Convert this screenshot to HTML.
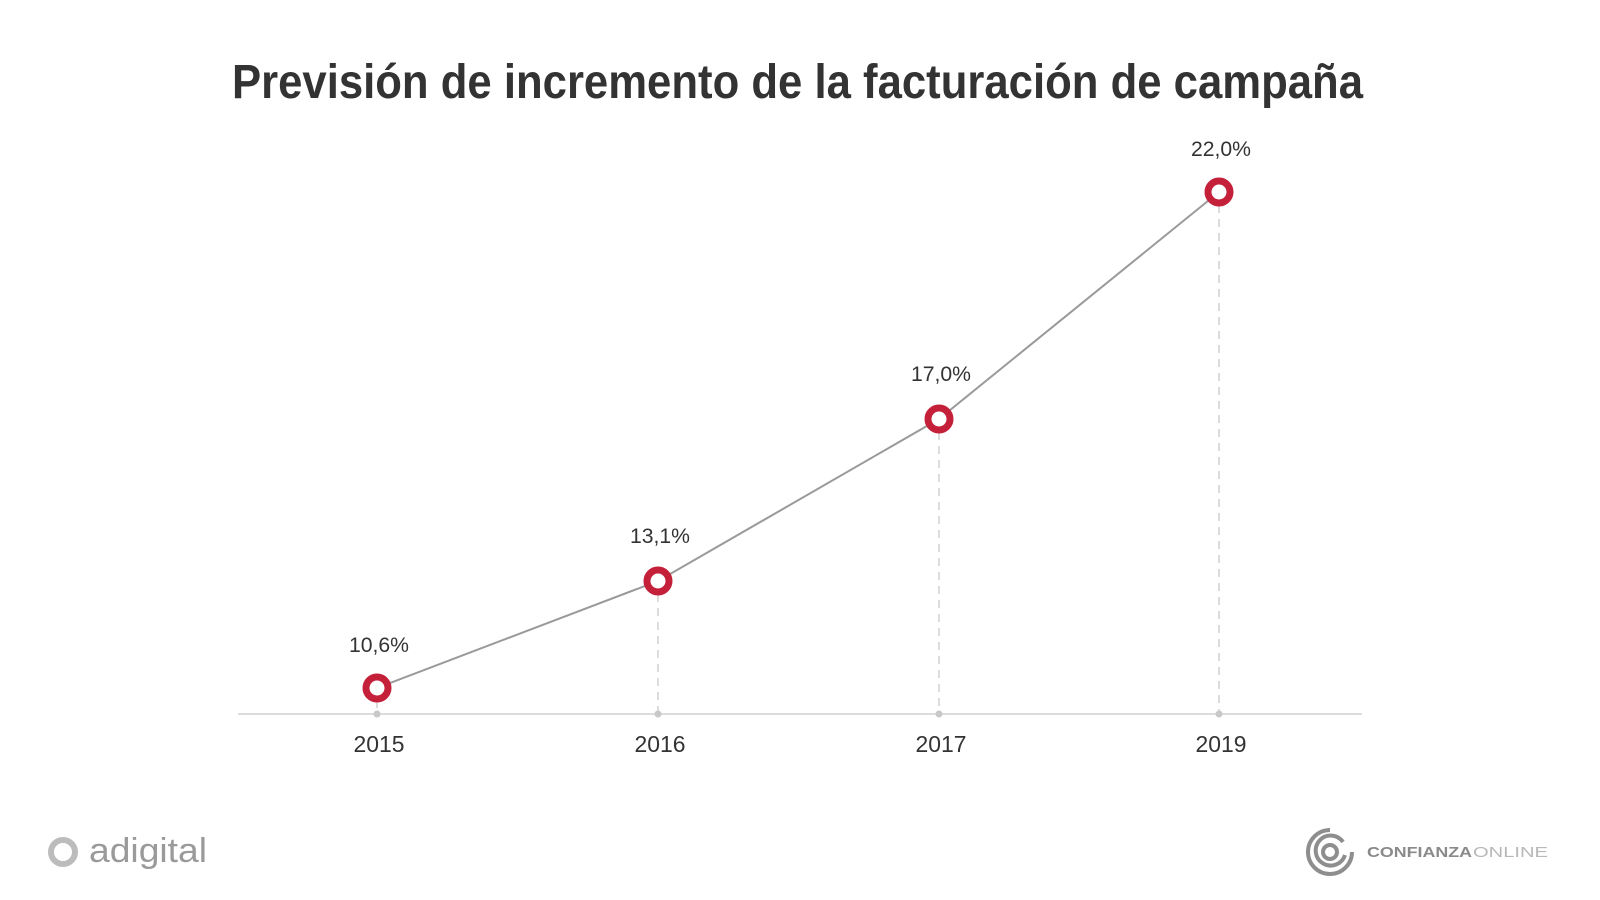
<!DOCTYPE html>
<html><head><meta charset="utf-8"><style>
html,body{margin:0;padding:0;background:#fff;}
svg{display:block;}
</style></head><body>
<svg width="1600" height="900" viewBox="0 0 1600 900" xmlns="http://www.w3.org/2000/svg">
<rect width="1600" height="900" fill="#fff"/>
<text x="232" y="98" font-family="Liberation Sans, sans-serif" font-weight="bold" font-size="48" fill="#333" textLength="1131" lengthAdjust="spacingAndGlyphs">Previsión de incremento de la facturación de campaña</text>
<!-- axis -->
<line x1="238" y1="714" x2="1362" y2="714" stroke="#dcdcdc" stroke-width="2"/>
<!-- dashed drops -->
<g stroke="#dcdcdc" stroke-width="2" stroke-dasharray="8,6">
<line x1="377" y1="700" x2="377" y2="714"/>
<line x1="658" y1="594" x2="658" y2="714"/>
<line x1="939" y1="432" x2="939" y2="714"/>
<line x1="1219" y1="205" x2="1219" y2="714"/>
</g>
<g fill="#c8c8c8">
<circle cx="377" cy="714" r="3.5"/>
<circle cx="658" cy="714" r="3.5"/>
<circle cx="939" cy="714" r="3.5"/>
<circle cx="1219" cy="714" r="3.5"/>
</g>
<polyline points="377,688 658,581 939,419 1219,192" fill="none" stroke="#9a9a9a" stroke-width="2"/>
<g fill="#fff" stroke="#c5203a" stroke-width="7">
<circle cx="377" cy="688" r="11"/>
<circle cx="658" cy="581" r="11"/>
<circle cx="939" cy="419" r="11"/>
<circle cx="1219" cy="192" r="11"/>
</g>
<g font-family="Liberation Sans, sans-serif" font-size="21" fill="#333" text-anchor="middle">
<text x="379" y="652" textLength="60" lengthAdjust="spacingAndGlyphs">10,6%</text>
<text x="660" y="543" textLength="60" lengthAdjust="spacingAndGlyphs">13,1%</text>
<text x="941" y="381" textLength="60" lengthAdjust="spacingAndGlyphs">17,0%</text>
<text x="1221" y="156" textLength="60" lengthAdjust="spacingAndGlyphs">22,0%</text>
</g>
<g font-family="Liberation Sans, sans-serif" font-size="23" fill="#333" text-anchor="middle">
<text x="379" y="752" textLength="51" lengthAdjust="spacingAndGlyphs">2015</text>
<text x="660" y="752" textLength="51" lengthAdjust="spacingAndGlyphs">2016</text>
<text x="941" y="752" textLength="51" lengthAdjust="spacingAndGlyphs">2017</text>
<text x="1221" y="752" textLength="51" lengthAdjust="spacingAndGlyphs">2019</text>
</g>
<!-- adigital logo -->
<circle cx="63" cy="852" r="12" fill="none" stroke="#b0b0b0" stroke-width="6" opacity="0.85"/>
<text x="89" y="862" font-family="Liberation Sans, sans-serif" font-size="34" fill="#9a9a9a" textLength="118" lengthAdjust="spacingAndGlyphs">adigital</text>
<!-- confianza logo -->
<g fill="none" stroke="#8e8e8e" stroke-width="4" stroke-linecap="butt">
<path d="M 1330 830 A 22 22 0 1 0 1352 852"/>
<path d="M 1343 842 A 15 15 0 1 0 1345 855"/>
<circle cx="1330" cy="852" r="7"/>
</g>
<text x="1367" y="857" font-family="Liberation Sans, sans-serif" font-weight="bold" font-size="15" fill="#8a8a8a" textLength="105" lengthAdjust="spacingAndGlyphs">CONFIANZA</text>
<text x="1473" y="857" font-family="Liberation Sans, sans-serif" font-size="15" fill="#b8b8b8" textLength="75" lengthAdjust="spacingAndGlyphs">ONLINE</text>
</svg>
</body></html>
